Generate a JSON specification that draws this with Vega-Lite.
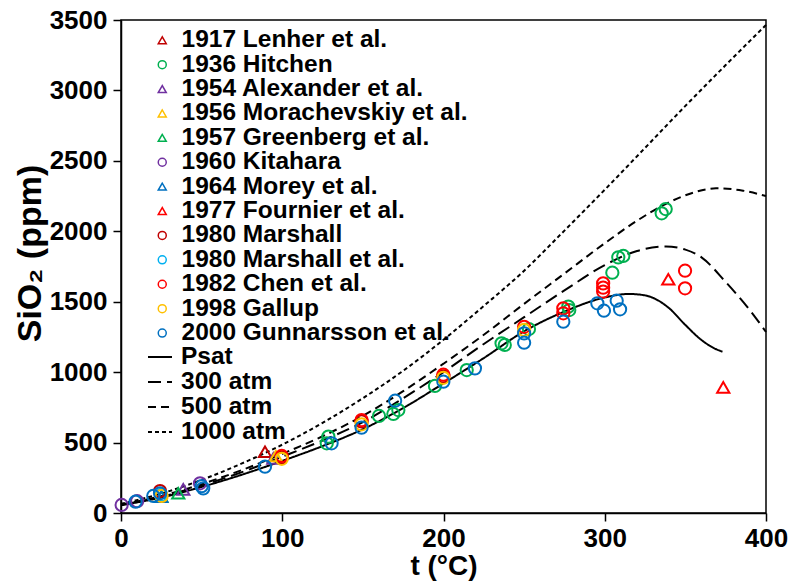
{
  "$schema": "https://vega.github.io/schema/vega-lite/v6.json",
  "width": 645,
  "height": 493,
  "autosize": {"type": "none"},
  "padding": {"left": 121, "top": 20, "right": 25, "bottom": 72},
  "background": "white",
  "config": {
    "view": {"stroke": "#000000", "strokeWidth": 1.5},
    "font": "Liberation Sans",
    "axis": {
      "labelFont": "Liberation Sans", "labelFontWeight": "bold", "labelColor": "#000000",
      "titleFont": "Liberation Sans", "titleFontWeight": "bold", "titleColor": "#000000",
      "domainColor": "#000000", "domainWidth": 1.5, "tickColor": "#000000", "tickWidth": 1.5,
      "grid": false
    },
    "legend": {"labelFont": "Liberation Sans", "labelFontWeight": "bold", "labelColor": "#000000", "labelLimit": 0}
  },
  "datasets": {
    "pts": [
      {"source": "1917 Lenher et al.", "t": 89.3, "ppm": 435},
      {"source": "1936 Hitchen", "t": 127.6, "ppm": 495},
      {"source": "1936 Hitchen", "t": 128.6, "ppm": 542},
      {"source": "1936 Hitchen", "t": 160, "ppm": 689},
      {"source": "1936 Hitchen", "t": 168.9, "ppm": 703},
      {"source": "1936 Hitchen", "t": 172, "ppm": 731},
      {"source": "1936 Hitchen", "t": 194.7, "ppm": 902},
      {"source": "1936 Hitchen", "t": 214.4, "ppm": 1015},
      {"source": "1936 Hitchen", "t": 236, "ppm": 1205},
      {"source": "1936 Hitchen", "t": 238, "ppm": 1193},
      {"source": "1936 Hitchen", "t": 253, "ppm": 1306},
      {"source": "1936 Hitchen", "t": 277.4, "ppm": 1465},
      {"source": "1936 Hitchen", "t": 278, "ppm": 1441},
      {"source": "1936 Hitchen", "t": 304.7, "ppm": 1706},
      {"source": "1936 Hitchen", "t": 308.4, "ppm": 1815},
      {"source": "1936 Hitchen", "t": 311.5, "ppm": 1825},
      {"source": "1936 Hitchen", "t": 335.3, "ppm": 2128},
      {"source": "1936 Hitchen", "t": 337.8, "ppm": 2158},
      {"source": "1954 Alexander et al.", "t": 38.6, "ppm": 168},
      {"source": "1954 Alexander et al.", "t": 94.5, "ppm": 388},
      {"source": "1956 Morachevskiy et al.", "t": 96, "ppm": 405},
      {"source": "1957 Greenberg et al.", "t": 25, "ppm": 118},
      {"source": "1957 Greenberg et al.", "t": 35.5, "ppm": 140},
      {"source": "1960 Kitahara", "t": 0.4, "ppm": 57},
      {"source": "1960 Kitahara", "t": 10, "ppm": 84},
      {"source": "1960 Kitahara", "t": 49, "ppm": 211},
      {"source": "1964 Morey et al.", "t": 25, "ppm": 115},
      {"source": "1977 Fournier et al.", "t": 339.4, "ppm": 1659},
      {"source": "1977 Fournier et al.", "t": 373.5, "ppm": 892},
      {"source": "1980 Marshall", "t": 24.2, "ppm": 156},
      {"source": "1980 Marshall", "t": 99.7, "ppm": 395},
      {"source": "1980 Marshall", "t": 149.2, "ppm": 650},
      {"source": "1980 Marshall", "t": 199.9, "ppm": 970},
      {"source": "1980 Marshall et al.", "t": 25, "ppm": 128},
      {"source": "1982 Chen et al.", "t": 99.7, "ppm": 405},
      {"source": "1982 Chen et al.", "t": 149.2, "ppm": 660},
      {"source": "1982 Chen et al.", "t": 199.9, "ppm": 982},
      {"source": "1982 Chen et al.", "t": 250, "ppm": 1322},
      {"source": "1982 Chen et al.", "t": 274.3, "ppm": 1453},
      {"source": "1982 Chen et al.", "t": 274.3, "ppm": 1418},
      {"source": "1982 Chen et al.", "t": 299, "ppm": 1630},
      {"source": "1982 Chen et al.", "t": 299, "ppm": 1600},
      {"source": "1982 Chen et al.", "t": 299, "ppm": 1572},
      {"source": "1982 Chen et al.", "t": 349.8, "ppm": 1720},
      {"source": "1982 Chen et al.", "t": 349.8, "ppm": 1595},
      {"source": "1998 Gallup", "t": 25.2, "ppm": 121},
      {"source": "1998 Gallup", "t": 99.7, "ppm": 385},
      {"source": "1998 Gallup", "t": 149.2, "ppm": 630},
      {"source": "1998 Gallup", "t": 199.9, "ppm": 960},
      {"source": "1998 Gallup", "t": 250, "ppm": 1300},
      {"source": "2000 Gunnarsson et al.", "t": 9, "ppm": 80},
      {"source": "2000 Gunnarsson et al.", "t": 20, "ppm": 121},
      {"source": "2000 Gunnarsson et al.", "t": 24.2, "ppm": 140},
      {"source": "2000 Gunnarsson et al.", "t": 50, "ppm": 190},
      {"source": "2000 Gunnarsson et al.", "t": 51, "ppm": 175},
      {"source": "2000 Gunnarsson et al.", "t": 89.3, "ppm": 329},
      {"source": "2000 Gunnarsson et al.", "t": 130.6, "ppm": 495},
      {"source": "2000 Gunnarsson et al.", "t": 149.2, "ppm": 606},
      {"source": "2000 Gunnarsson et al.", "t": 170, "ppm": 797},
      {"source": "2000 Gunnarsson et al.", "t": 199.9, "ppm": 932},
      {"source": "2000 Gunnarsson et al.", "t": 219.5, "ppm": 1027},
      {"source": "2000 Gunnarsson et al.", "t": 250, "ppm": 1275},
      {"source": "2000 Gunnarsson et al.", "t": 250, "ppm": 1209},
      {"source": "2000 Gunnarsson et al.", "t": 274.3, "ppm": 1358},
      {"source": "2000 Gunnarsson et al.", "t": 295.4, "ppm": 1489},
      {"source": "2000 Gunnarsson et al.", "t": 299.5, "ppm": 1436},
      {"source": "2000 Gunnarsson et al.", "t": 307.4, "ppm": 1507},
      {"source": "2000 Gunnarsson et al.", "t": 309.5, "ppm": 1446}
    ],
    "curves": [
      {"curve": "Psat", "t": 0, "ppm": 55},
      {"curve": "Psat", "t": 25, "ppm": 110},
      {"curve": "Psat", "t": 50, "ppm": 185},
      {"curve": "Psat", "t": 75, "ppm": 272},
      {"curve": "Psat", "t": 100, "ppm": 370},
      {"curve": "Psat", "t": 125, "ppm": 475},
      {"curve": "Psat", "t": 150, "ppm": 595},
      {"curve": "Psat", "t": 175, "ppm": 745},
      {"curve": "Psat", "t": 200, "ppm": 920},
      {"curve": "Psat", "t": 225, "ppm": 1100},
      {"curve": "Psat", "t": 250, "ppm": 1290},
      {"curve": "Psat", "t": 275, "ppm": 1430},
      {"curve": "Psat", "t": 300, "ppm": 1530},
      {"curve": "Psat", "t": 315, "ppm": 1555},
      {"curve": "Psat", "t": 325, "ppm": 1545},
      {"curve": "Psat", "t": 333, "ppm": 1510},
      {"curve": "Psat", "t": 340, "ppm": 1453},
      {"curve": "Psat", "t": 350, "ppm": 1335},
      {"curve": "Psat", "t": 360, "ppm": 1228},
      {"curve": "Psat", "t": 368, "ppm": 1169},
      {"curve": "Psat", "t": 373, "ppm": 1145},
      {"curve": "300 atm", "t": 0, "ppm": 58},
      {"curve": "300 atm", "t": 25, "ppm": 115},
      {"curve": "300 atm", "t": 50, "ppm": 195},
      {"curve": "300 atm", "t": 75, "ppm": 290},
      {"curve": "300 atm", "t": 100, "ppm": 400},
      {"curve": "300 atm", "t": 125, "ppm": 515},
      {"curve": "300 atm", "t": 150, "ppm": 645},
      {"curve": "300 atm", "t": 175, "ppm": 815},
      {"curve": "300 atm", "t": 200, "ppm": 1000},
      {"curve": "300 atm", "t": 225, "ppm": 1200},
      {"curve": "300 atm", "t": 250, "ppm": 1390},
      {"curve": "300 atm", "t": 275, "ppm": 1580},
      {"curve": "300 atm", "t": 300, "ppm": 1760},
      {"curve": "300 atm", "t": 320, "ppm": 1860},
      {"curve": "300 atm", "t": 338, "ppm": 1892},
      {"curve": "300 atm", "t": 350, "ppm": 1870},
      {"curve": "300 atm", "t": 360, "ppm": 1815},
      {"curve": "300 atm", "t": 375, "ppm": 1640},
      {"curve": "300 atm", "t": 390, "ppm": 1440},
      {"curve": "300 atm", "t": 400, "ppm": 1285},
      {"curve": "500 atm", "t": 0, "ppm": 60},
      {"curve": "500 atm", "t": 25, "ppm": 120},
      {"curve": "500 atm", "t": 50, "ppm": 205},
      {"curve": "500 atm", "t": 75, "ppm": 305},
      {"curve": "500 atm", "t": 100, "ppm": 420},
      {"curve": "500 atm", "t": 125, "ppm": 545},
      {"curve": "500 atm", "t": 150, "ppm": 690},
      {"curve": "500 atm", "t": 175, "ppm": 865},
      {"curve": "500 atm", "t": 200, "ppm": 1060},
      {"curve": "500 atm", "t": 225, "ppm": 1265},
      {"curve": "500 atm", "t": 250, "ppm": 1485},
      {"curve": "500 atm", "t": 275, "ppm": 1700},
      {"curve": "500 atm", "t": 300, "ppm": 1915},
      {"curve": "500 atm", "t": 320, "ppm": 2075},
      {"curve": "500 atm", "t": 338, "ppm": 2195},
      {"curve": "500 atm", "t": 355, "ppm": 2275},
      {"curve": "500 atm", "t": 369, "ppm": 2305},
      {"curve": "500 atm", "t": 385, "ppm": 2290},
      {"curve": "500 atm", "t": 400, "ppm": 2250},
      {"curve": "1000 atm", "t": 0, "ppm": 65},
      {"curve": "1000 atm", "t": 25, "ppm": 138},
      {"curve": "1000 atm", "t": 50, "ppm": 235},
      {"curve": "1000 atm", "t": 75, "ppm": 352},
      {"curve": "1000 atm", "t": 100, "ppm": 485},
      {"curve": "1000 atm", "t": 125, "ppm": 640},
      {"curve": "1000 atm", "t": 150, "ppm": 815},
      {"curve": "1000 atm", "t": 175, "ppm": 1010},
      {"curve": "1000 atm", "t": 200, "ppm": 1230},
      {"curve": "1000 atm", "t": 225, "ppm": 1470},
      {"curve": "1000 atm", "t": 250, "ppm": 1720},
      {"curve": "1000 atm", "t": 275, "ppm": 2005},
      {"curve": "1000 atm", "t": 300, "ppm": 2295},
      {"curve": "1000 atm", "t": 325, "ppm": 2592},
      {"curve": "1000 atm", "t": 350, "ppm": 2890},
      {"curve": "1000 atm", "t": 375, "ppm": 3180},
      {"curve": "1000 atm", "t": 400, "ppm": 3465}
    ]
  },
  "encoding": {
    "x": {
      "field": "t", "type": "quantitative",
      "scale": {"domain": [0, 400], "nice": false, "zero": false},
      "axis": {"values": [0, 100, 200, 300, 400], "format": "d", "title": "t (°C)", "labelFontSize": 26, "titleFontSize": 28, "tickSize": 8, "labelPadding": 4, "titlePadding": 1, "labelFlush": false}
    },
    "y": {
      "field": "ppm", "type": "quantitative",
      "scale": {"domain": [0, 3500], "nice": false, "zero": false},
      "axis": {"values": [0, 500, 1000, 1500, 2000, 2500, 3000, 3500], "format": "d", "title": "SiO₂ (ppm)", "labelFontSize": 26, "titleFontSize": 34, "tickSize": 8, "labelPadding": 6, "labelFlush": false, "titleX": -91, "titleY": 233, "titleBaseline": "middle", "titleAlign": "center", "titleAngle": -90}
    }
  },
  "layer": [
    {
      "data": {"name": "curves"},
      "mark": {"type": "line", "color": "#000000", "strokeWidth": 2, "interpolate": "monotone"},
      "encoding": {
        "detail": {"field": "curve"},
        "strokeDash": {
          "field": "curve", "type": "nominal",
          "scale": {"domain": ["Psat", "300 atm", "500 atm", "1000 atm"], "range": [[1, 0], [13, 6], [8, 5], [4, 3]]},
          "legend": {"title": null, "orient": "none", "legendX": 26, "legendY": 324, "labelFontSize": 24.5, "symbolSize": 576, "symbolStrokeWidth": 2, "symbolStrokeColor": "#000000", "labelOffset": 8, "rowPadding": -0.6, "padding": 0}
        }
      }
    },
    {
      "data": {"name": "pts"},
      "mark": {"type": "point", "filled": false, "strokeWidth": 2, "size": 150, "opacity": 1},
      "encoding": {
        "color": {
          "field": "source", "type": "nominal",
          "scale": {
            "domain": ["1917 Lenher et al.", "1936 Hitchen", "1954 Alexander et al.", "1956 Morachevskiy et al.", "1957 Greenberg et al.", "1960 Kitahara", "1964 Morey et al.", "1977 Fournier et al.", "1980 Marshall", "1980 Marshall et al.", "1982 Chen et al.", "1998 Gallup", "2000 Gunnarsson et al."],
            "range": ["#C00000", "#00B050", "#7030A0", "#FFC000", "#00B050", "#7030A0", "#0070C0", "#FF0000", "#C00000", "#00B0F0", "#FF0000", "#FFC000", "#0070C0"]
          },
          "legend": {"title": null, "orient": "none", "legendX": 29, "legendY": 8, "labelFontSize": 24.5, "symbolSize": 64, "symbolStrokeWidth": 1.5, "labelOffset": 7, "rowPadding": -0.6, "padding": 0}
        },
        "shape": {
          "field": "source", "type": "nominal",
          "scale": {
            "domain": ["1917 Lenher et al.", "1936 Hitchen", "1954 Alexander et al.", "1956 Morachevskiy et al.", "1957 Greenberg et al.", "1960 Kitahara", "1964 Morey et al.", "1977 Fournier et al.", "1980 Marshall", "1980 Marshall et al.", "1982 Chen et al.", "1998 Gallup", "2000 Gunnarsson et al."],
            "range": ["triangle-up", "circle", "triangle-up", "triangle-up", "triangle-up", "circle", "triangle-up", "triangle-up", "circle", "circle", "circle", "circle", "circle"]
          }
        }
      }
    }
  ]
}
